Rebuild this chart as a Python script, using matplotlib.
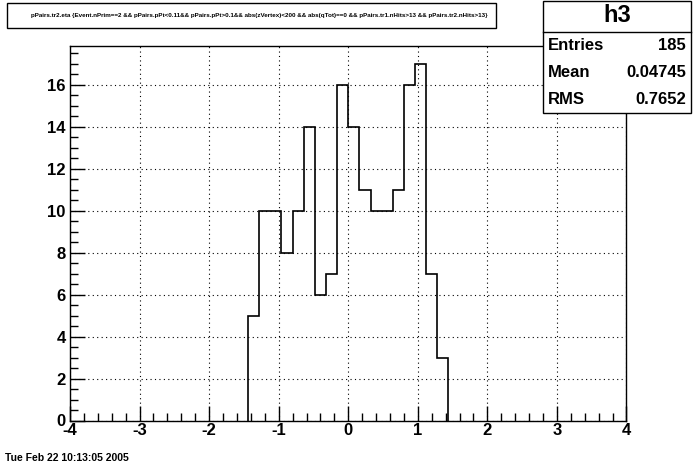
import numpy as np
import matplotlib
matplotlib.use('Agg')
import matplotlib.pyplot as plt
from matplotlib.patches import Rectangle
from matplotlib.ticker import MultipleLocator

# Histogram data (pPairs.tr2.eta)
bin_edges = [-1.44, -1.28, -1.12, -0.96, -0.8, -0.64, -0.48, -0.32, -0.16, 0.0,
             0.16, 0.32, 0.48, 0.64, 0.8, 0.96, 1.12, 1.28, 1.44]
counts = [5, 10, 10, 8, 10, 14, 6, 7, 16, 14, 11, 10, 10, 11, 16, 17, 7, 3]

title = ("pPairs.tr2.eta {Event.nPrim==2 && pPairs.pPt<0.11&& pPairs.pPt>0.1&& "
         "abs(zVertex)<200 && abs(qTot)==0 && pPairs.tr1.nHits>13 && pPairs.tr2.nHits>13}")
hist_name = 'h3'
stats = [('Entries', '185'), ('Mean', '0.04745'), ('RMS', '0.7652')]
date_text = 'Tue Feb 22 10:13:05 2005'

plt.rcParams['font.family'] = ['Liberation Sans', 'DejaVu Sans']
plt.rcParams['font.weight'] = 'bold'
plt.rcParams['axes.unicode_minus'] = False

W, H = 696, 468
fig = plt.figure(figsize=(W / 100, H / 100), dpi=100)
fig.patch.set_facecolor('white')

# axes frame in pixel coords
x0, x1, ytop, ybot = 70, 626.5, 46, 420.5
ax = fig.add_axes([x0 / W, (H - ybot) / H, (x1 - x0) / W, (ybot - ytop) / H])

ax.stairs(counts, bin_edges, color='black', linewidth=1.2)

ax.set_xlim(-4, 4)
ax.set_ylim(0, 17.85)
ax.xaxis.set_major_locator(MultipleLocator(1))
ax.xaxis.set_minor_locator(MultipleLocator(0.2))
ax.yaxis.set_major_locator(MultipleLocator(2))
ax.yaxis.set_minor_locator(MultipleLocator(0.5))
ax.tick_params(axis='both', which='both', direction='in', top=False, right=False,
               labelsize=12, width=1)
ax.tick_params(axis='both', which='major', length=11)
ax.tick_params(axis='both', which='minor', length=6)
ax.tick_params(axis='x', pad=2)
ax.tick_params(axis='y', pad=3)
for lab in ax.get_xticklabels() + ax.get_yticklabels():
    lab.set_fontweight('bold')
ax.grid(True, which='major', color='black', linestyle=(0, (1, 3)), linewidth=0.8)
for s in ax.spines.values():
    s.set_linewidth(1)

# title box
fig.patches.append(Rectangle((7 / W, (H - 28) / H), (496 - 7) / W, 25 / H,
                             transform=fig.transFigure, facecolor='white',
                             edgecolor='black', linewidth=1, zorder=5))
fig.text(259 / W, (H - 16) / H, title, ha='center', va='center', fontsize=4.5,
         fontweight='bold', zorder=6)

# stats box
sx0, sx1, sy0, sy1 = 543, 691, 1, 113
fig.patches.append(Rectangle((sx0 / W, (H - sy1) / H), (sx1 - sx0) / W, (sy1 - sy0) / H,
                             transform=fig.transFigure, facecolor='white',
                             edgecolor='black', linewidth=1, zorder=5))
fig.add_artist(plt.Line2D([sx0 / W, sx1 / W], [(H - 32) / H] * 2,
                          transform=fig.transFigure, color='black', linewidth=1, zorder=6))
fig.text((sx0 + sx1) / 2 / W, (H - 16) / H, hist_name, ha='center', va='center',
         fontsize=17, fontweight='bold', zorder=6)
for i, (k, v) in enumerate(stats):
    yy = (H - (45 + 27.5 * i)) / H
    fig.text((sx0 + 5) / W, yy, k, ha='left', va='center', fontsize=12,
             fontweight='bold', zorder=6)
    fig.text((sx1 - 5) / W, yy, v, ha='right', va='center', fontsize=12,
             fontweight='bold', zorder=6)

fig.text(5 / W, (H - 458) / H, date_text, ha='left', va='center', fontsize=7.5,
         fontweight='bold')

fig.savefig('out.png', dpi=100)
